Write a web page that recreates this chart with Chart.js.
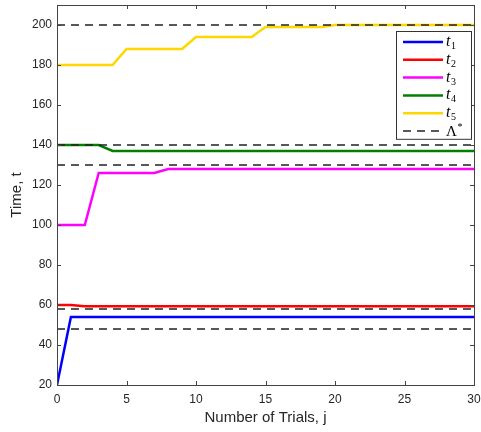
<!DOCTYPE html>
<html>
<head>
<meta charset="utf-8">
<script src="https://cdn.jsdelivr.net/npm/chart.js@4"></script>
<style>
  html, body { margin: 0; padding: 0; background: #fff; }
  #wrap { width: 481px; height: 432px; position: relative; }
</style>
</head>
<body>
<div id="wrap"><canvas id="chart"></canvas></div>
<script>
// trials j = 0..30
const trials = [0,1,2,3,4,5,6,7,8,9,10,11,12,13,14,15,16,17,18,19,20,21,22,23,24,25,26,27,28,29,30];

const t1 = [20,54,54,54,54,54,54,54,54,54,54,54,54,54,54,54,54,54,54,54,54,54,54,54,54,54,54,54,54,54,54];
const t2 = [60,60,59.4,59.4,59.4,59.4,59.4,59.4,59.4,59.4,59.4,59.4,59.4,59.4,59.4,59.4,59.4,59.4,59.4,59.4,59.4,59.4,59.4,59.4,59.4,59.4,59.4,59.4,59.4,59.4,59.4];
const t3 = [100,100,100,126,126,126,126,126,128,128,128,128,128,128,128,128,128,128,128,128,128,128,128,128,128,128,128,128,128,128,128];
const t4 = [140,140,140,140,137,137,137,137,137,137,137,137,137,137,137,137,137,137,137,137,137,137,137,137,137,137,137,137,137,137,137];
const t5 = [180,180,180,180,180,188,188,188,188,188,194,194,194,194,194,199,199,199,199,199,200,200,200,200,200,200,200,200,200,200,200];

// Lambda* reference levels
const lambdaStar = [200, 140, 130, 58, 48];

const xTicks = [0,5,10,15,20,25,30];
const yTicks = [20,40,60,80,100,120,140,160,180,200];

const series = [
  { name: ['t','1'], data: t1, color: '#0000ff' },
  { name: ['t','2'], data: t2, color: '#ff0000' },
  { name: ['t','3'], data: t3, color: '#ff00ff' },
  { name: ['t','4'], data: t4, color: '#008000' },
  { name: ['t','5'], data: t5, color: '#ffd700' }
];

const datasets = [];
series.forEach(s => {
  datasets.push({
    label: s.name.join(''),
    data: trials.map((x, i) => ({ x, y: s.data[i] })),
    borderColor: s.color,
    borderWidth: 2.5,
    pointRadius: 0,
    tension: 0,
    order: 2,
    legendName: s.name
  });
});
lambdaStar.forEach((v, k) => {
  datasets.push({
    label: 'Λ*',
    data: [{ x: trials[0], y: v }, { x: trials[trials.length - 1], y: v }],
    borderColor: '#222',
    borderWidth: 1.3,
    borderDash: [8, 6],
    pointRadius: 0,
    order: 1,
    legendName: k === 0 ? ['Λ', '*'] : null,
    dashed: true
  });
});

const axisColor = '#444';

// box + inward tick marks
const boxPlugin = {
  id: 'box',
  afterDraw(chart) {
    const { ctx, chartArea: a, scales } = chart;
    ctx.save();
    ctx.strokeStyle = axisColor;
    ctx.lineWidth = 1;
    ctx.strokeRect(Math.round(a.left) + 0.5, Math.round(a.top) + 0.5, Math.round(a.right - a.left), Math.round(a.bottom - a.top));
    ctx.beginPath();
    const tl = 4;
    xTicks.forEach(v => {
      const x = Math.round(scales.x.getPixelForValue(v)) + 0.5;
      ctx.moveTo(x, a.bottom); ctx.lineTo(x, a.bottom - tl);
      ctx.moveTo(x, a.top); ctx.lineTo(x, a.top + tl);
    });
    yTicks.forEach(v => {
      const y = Math.round(scales.y.getPixelForValue(v)) + 0.5;
      ctx.moveTo(a.left, y); ctx.lineTo(a.left + tl, y);
      ctx.moveTo(a.right, y); ctx.lineTo(a.right - tl, y);
    });
    ctx.stroke();
    ctx.restore();
  }
};

// legend drawn inside the plot, upper right
const legendPlugin = {
  id: 'insideLegend',
  afterDraw(chart) {
    const { ctx, chartArea: a } = chart;
    const items = chart.data.datasets.filter(d => d.legendName);
    const boxW = 75, rowH = 17.8;
    const boxH = items.length * rowH + 1;
    const bx = a.right - 3 - boxW, by = 31;
    ctx.save();
    ctx.fillStyle = '#fff';
    ctx.fillRect(bx, by, boxW, boxH);
    ctx.strokeStyle = '#333';
    ctx.lineWidth = 1;
    ctx.strokeRect(Math.round(bx) + 0.5, Math.round(by) + 0.5, boxW, boxH);
    items.forEach((d, i) => {
      const y = by + 11 + i * rowH;
      ctx.beginPath();
      ctx.strokeStyle = d.borderColor;
      ctx.lineWidth = d.dashed ? 1.3 : 2.5;
      ctx.setLineDash(d.dashed ? [8, 6] : []);
      ctx.moveTo(bx + 7, y);
      ctx.lineTo(bx + 47, y);
      ctx.stroke();
      ctx.setLineDash([]);
      ctx.fillStyle = '#000';
      ctx.textBaseline = 'alphabetic';
      const [main, sub] = d.legendName;
      if (d.dashed) {
        ctx.font = '15px "Liberation Serif", serif';
        ctx.fillText(main, bx + 50, y + 5);
        const w = ctx.measureText(main).width;
        ctx.font = '10px "Liberation Serif", serif';
        ctx.fillText(sub, bx + 50 + w + 0.5, y - 1);
      } else {
        ctx.font = 'italic 16px "Liberation Serif", serif';
        ctx.fillText(main, bx + 50, y + 4);
        const w = ctx.measureText(main).width;
        ctx.font = '10px "Liberation Serif", serif';
        ctx.fillText(sub, bx + 50 + w + 0.5, y + 7);
      }
    });
    ctx.restore();
  }
};

new Chart(document.getElementById('chart'), {
  type: 'line',
  data: { datasets },
  options: {
    responsive: true,
    maintainAspectRatio: false,
    animation: false,
    layout: { padding: { top: 5, right: 7, left: 0, bottom: 0 } },
    plugins: { legend: { display: false }, tooltip: { enabled: false } },
    scales: {
      x: {
        type: 'linear',
        min: 0, max: 30,
        afterBuildTicks: s => { s.ticks = xTicks.map(v => ({ value: v })); },
        afterFit: s => { s.height = 47; s.paddingLeft = 0; s.paddingRight = 0; },
        grid: { display: false, drawTicks: false },
        border: { display: false },
        ticks: { padding: 7, color: '#262626', maxRotation: 0, font: { family: '"Liberation Sans", Arial, sans-serif', size: 12 } },
        title: { display: true, text: 'Number of Trials, j', color: '#262626', padding: { top: 0, bottom: 5 }, font: { family: '"Liberation Sans", Arial, sans-serif', size: 15 } }
      },
      y: {
        min: 20, max: 210,
        afterBuildTicks: s => { s.ticks = yTicks.map(v => ({ value: v })); },
        afterFit: s => { s.width = 57; s.paddingTop = 0; s.paddingBottom = 0; },
        grid: { display: false, drawTicks: false },
        border: { display: false },
        ticks: { padding: 5, color: '#262626', font: { family: '"Liberation Sans", Arial, sans-serif', size: 12 } },
        title: { display: true, text: 'Time, t', color: '#262626', padding: { top: 8, bottom: 0 }, font: { family: '"Liberation Sans", Arial, sans-serif', size: 15 } }
      }
    }
  },
  plugins: [boxPlugin, legendPlugin]
});
</script>
</body>
</html>
